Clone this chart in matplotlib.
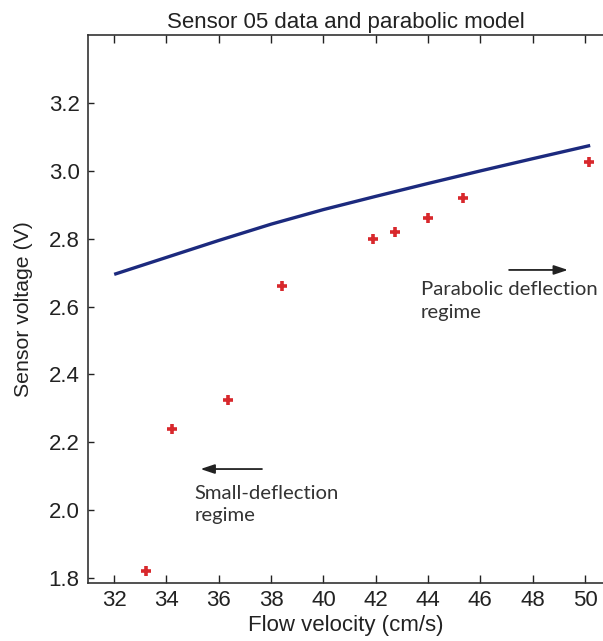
import matplotlib
matplotlib.use("Agg")
import matplotlib.pyplot as plt

# data
flow_velocity = [33.2, 34.2, 36.35, 38.4, 41.9, 42.75, 44.0, 45.35, 50.15]
sensor_voltage = [1.82, 2.24, 2.325, 2.66, 2.80, 2.82, 2.862, 2.92, 3.027]

model_velocity = [32, 34, 36, 38, 40, 42, 44, 46, 48, 50.2]
model_voltage = [2.695, 2.745, 2.795, 2.843, 2.886, 2.925, 2.963, 3.0, 3.036, 3.075]

xticks = [32, 34, 36, 38, 40, 42, 44, 46, 48, 50]
yticks = [1.8, 2.0, 2.2, 2.4, 2.6, 2.8, 3.0, 3.2]

plt.rcParams['font.family'] = ['Liberation Sans', 'DejaVu Sans']

fig = plt.figure(figsize=(6.03, 6.41), dpi=100)
ax = fig.add_axes([0.146, 0.0905, 0.854, 0.8545])

ax.plot(model_velocity, model_voltage, color='#1c2a7e', lw=2.4, solid_capstyle='butt')
ax.plot(flow_velocity, sensor_voltage, linestyle='none', marker='+', color='#d8282c',
        markersize=7, markeredgewidth=2.6)

ax.set_xlim(31.0, 50.69)
ax.set_ylim(1.785, 3.40)
ax.set_xticks(xticks)
ax.set_yticks(yticks)
ax.set_xticklabels([str(v) for v in xticks])
ax.set_yticklabels([f"{v:.1f}" for v in yticks])

ax.tick_params(axis='both', direction='in', labelsize=16, colors='#222222', width=1.0)
ax.tick_params(axis='x', length=6, top=True, pad=5)
ax.tick_params(axis='y', length=4, right=False, pad=6)
for s in ['left', 'bottom', 'top']:
    ax.spines[s].set_linewidth(1.2)
    ax.spines[s].set_color('#333333')
ax.spines['right'].set_visible(False)

ax.set_xlabel('Flow velocity (cm/s)', fontsize=16, color='#222222', labelpad=3)
ax.set_ylabel('Sensor voltage (V)', fontsize=15.3, color='#222222', labelpad=11)
ax.set_title('Sensor 05 data and parabolic model', fontsize=16, color='#222222', pad=5)

ax.text(43.72, 2.675, 'Parabolic deflection\nregime', fontsize=14.6, color='#333333',
        va='top', ha='left', linespacing=1.4, family=['Lato', 'DejaVu Sans'])
ax.annotate('', xy=(49.35, 2.708), xytext=(47.1, 2.708),
            arrowprops=dict(arrowstyle='-|>,head_length=0.6,head_width=0.2', color='#222222', lw=1.3,
                            mutation_scale=14, shrinkA=0, shrinkB=0))

ax.text(35.06, 2.075, 'Small-deflection\nregime', fontsize=14.6, color='#333333',
        va='top', ha='left', linespacing=1.4, family=['Lato', 'DejaVu Sans'])
ax.annotate('', xy=(35.3, 2.121), xytext=(37.65, 2.121),
            arrowprops=dict(arrowstyle='-|>,head_length=0.6,head_width=0.2', color='#222222', lw=1.3,
                            mutation_scale=14, shrinkA=0, shrinkB=0))

fig.savefig('out.png', dpi=100)
